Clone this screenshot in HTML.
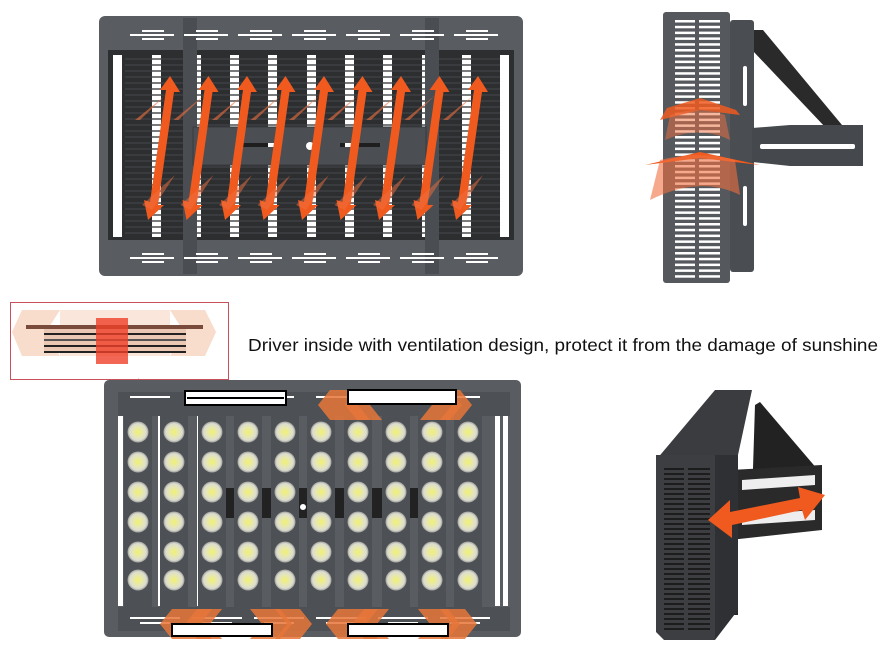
<!DOCTYPE html>
<html><head><meta charset="utf-8"><style>
html,body{margin:0;padding:0;background:#fff;width:894px;height:652px;overflow:hidden}
svg{display:block}
</style></head><body>
<svg id="s" width="894" height="652" viewBox="0 0 894 652" xmlns="http://www.w3.org/2000/svg">
<defs>
<radialGradient id="led"><stop offset="0" stop-color="#f2f070"/><stop offset="0.45" stop-color="#e6e8b0"/><stop offset="0.8" stop-color="#dcdcd0"/><stop offset="1" stop-color="#9a9c98"/></radialGradient>
</defs>
<!-- TOP FIXTURE -->
<rect x="99" y="16" width="424" height="260" rx="6" fill="#595c60"/>
<rect x="108" y="50" width="406" height="190" fill="#2c2e30"/>
<g id="topslots"></g>
<rect x="183" y="18" width="14" height="256" fill="#4a4d51"/>
<rect x="425" y="18" width="14" height="256" fill="#4a4d51"/>
<rect x="193" y="127" width="233" height="38" fill="#4b4e52" stroke="#3a3c3f"/>
<circle cx="310" cy="146" r="4" fill="#fff"/>
<rect x="240" y="143" width="40" height="4" fill="#1e1e1e"/><rect x="340" y="143" width="40" height="4" fill="#1e1e1e"/>
<rect x="268" y="143" width="8" height="4" fill="#fff"/><rect x="345" y="143" width="8" height="4" fill="#fff"/>
<g id="toplines"></g>
<g id="arrows"></g>
<!-- TOP RIGHT SIDE VIEW -->
<polygon points="752,30 763,30 842,125 826,128 752,50" fill="#2a2a2a"/>
<rect x="730" y="20" width="24" height="252" rx="3" fill="#4a4d51"/>
<path d="M752,128 L790,125 L863,125 L863,166 L790,166 L752,162Z" fill="#45484c"/>
<rect x="760" y="144" width="95" height="5" fill="#fff" rx="2"/>
<rect x="743" y="66" width="4" height="40" fill="#fff" rx="2"/><rect x="743" y="186" width="4" height="40" fill="#fff" rx="2"/>
<rect x="663" y="12" width="67" height="271" rx="3" fill="#55585c"/>
<g id="sideslots"></g>
<path d="M667,108 L700,98 L736,110 L740,115 L700,110 L660,120Z" fill="#f05a1e" opacity="0.85"/>
<path d="M645,165 L700,152 L760,165 L700,158 Z" fill="#f05a1e"/>
<path d="M660,160 Q700,150 735,160 L740,195 Q700,175 650,200Z" fill="#f07040" opacity="0.6"/>
<path d="M670,115 Q700,105 725,115 L730,140 Q700,125 665,140Z" fill="#f07040" opacity="0.5"/>
<!-- INSET -->
<rect x="10.5" y="302.5" width="218" height="77" fill="#fff" stroke="#c8505a"/>
<polygon points="22,310 60,310 46,332 60,356 22,356 12,332" fill="#f8dccc"/>
<polygon points="170,310 205,310 216,332 205,356 170,356 184,332" fill="#f8dccc"/>
<rect x="60" y="310" width="110" height="46" fill="#fae6da"/>
<rect x="26" y="325" width="177" height="4" fill="#7a4a3a"/>
<rect x="44" y="329" width="142" height="24" fill="#eac8b4"/>
<rect x="44" y="333" width="142" height="2" fill="#222"/><rect x="44" y="339" width="142" height="2" fill="#555"/><rect x="44" y="345" width="142" height="2" fill="#222"/><rect x="44" y="351" width="142" height="2" fill="#222"/>
<rect x="96" y="318" width="32" height="46" fill="#f04028" opacity="0.8"/>
<line x1="138" y1="379" x2="195" y2="408" stroke="#c8505a"/><line x1="192" y1="379" x2="192" y2="408" stroke="#c8505a"/>
<text x="248" y="351" font-family="Liberation Sans, sans-serif" font-size="17.5" textLength="630" lengthAdjust="spacingAndGlyphs" fill="#111">Driver inside with ventilation design, protect it from the damage of sunshine</text>
<!-- BOTTOM FIXTURE -->
<rect x="104" y="380" width="417" height="257" rx="5" fill="#595c60"/>
<rect x="118" y="392" width="392" height="24" fill="#4d5054"/>
<rect x="118" y="607" width="392" height="24" fill="#4d5054"/>
<g id="bot"></g>
<rect x="185" y="391" width="101" height="14" fill="#fff" stroke="#000" stroke-width="2"/><rect x="187" y="397" width="97" height="2" fill="#000"/>
<g id="orange"></g>
<!-- BOTTOM RIGHT -->
<polygon points="755,405 760,402 818,470 822,475 810,520 760,520 752,500" fill="#222"/>
<polygon points="730,470 822,465 822,530 730,540" fill="#2a2a2a"/>
<polygon points="742,480 815,475 815,485 742,490" fill="#eee"/><polygon points="742,515 815,510 815,520 742,525" fill="#eee"/>
<rect x="720" y="400" width="18" height="215" fill="#2a2a2a"/>
<polygon points="656,460 715,390 752,390 738,455" fill="#3a3c40"/>
<polygon points="656,455 715,455 715,640 664,640 656,632" fill="#3c3e42"/>
<polygon points="715,455 738,455 738,610 715,640" fill="#2e3033"/>
<g id="brslots"></g>
<path d="M708,520 L730,500 L730,512 L800,498 L798,487 L825,495 L805,520 L802,510 L732,525 L732,538Z" fill="#f05a1e"/>
</svg>
<script>
const ns="http://www.w3.org/2000/svg";
function el(p,t,a){const e=document.createElementNS(ns,t);for(const k in a)e.setAttribute(k,a[k]);document.getElementById(p).appendChild(e);return e;}
[113,152,197,230,268,307,345,383,422,462,500].forEach(x=>el("topslots","rect",{x:x,y:55,width:(x==197||x==422)?4:9,height:182,fill:"#fff"}));
for(let y=58;y<236;y+=6){el("topslots","rect",{x:125,y:y,width:375,height:2,fill:"#3f4245",opacity:0.7});}
for(let i=0;i<7;i++){const x=130+i*54;el("toplines","rect",{x:x,y:34,width:44,height:2,fill:"#fff"});el("toplines","rect",{x:x+12,y:30,width:22,height:2,fill:"#fff"});el("toplines","rect",{x:x+12,y:38,width:22,height:2,fill:"#fff"});
el("toplines","rect",{x:x,y:257,width:44,height:2,fill:"#fff"});el("toplines","rect",{x:x+12,y:253,width:22,height:2,fill:"#fff"});el("toplines","rect",{x:x+12,y:261,width:22,height:2,fill:"#fff"});}
for(let i=0;i<9;i++){const cx=160+i*38.5;
el("arrows","path",{d:`M${cx+10},76 L${cx+20},92 L${cx+14},92 L${cx-2},205 L${cx+4},205 L${cx-12},220 L${cx-16},200 L${cx-10},202 L${cx+6},90 L${cx},90 Z`,fill:"#f05a1e"});
el("arrows","path",{d:`M${cx+6},95 L${cx-20},120 L${cx-25},120 Z`,fill:"#f07040",opacity:0.6});
el("arrows","path",{d:`M${cx+15},175 L${cx-8},210 L${cx-18},205 Z`,fill:"#f07040",opacity:0.5});}
for(let y=20;y<280;y+=5.8){el("sideslots","rect",{x:675,y:y,width:20,height:2.5,fill:"#fff"});el("sideslots","rect",{x:699,y:y,width:21,height:2.5,fill:"#fff"});}
const cols=[138,174,212,248,285,321,358,396,432,468];
[118,152,191,228,266,304,341,377,414,450,489].forEach((x,i)=>el("bot","rect",{x:x+(i==0?0:6),y:416,width:5,height:190,fill:"#fff"}));
el("bot","rect",{x:118,y:416,width:5,height:190,fill:"#fff"});el("bot","rect",{x:503,y:416,width:5,height:190,fill:"#fff"});
el("bot","rect",{x:200,y:488,width:220,height:30,fill:"#222"});
cols.forEach(cx=>{el("bot","rect",{x:cx-14,y:416,width:28,height:192,fill:"#4d5054"});
[432,462,492,522,552,580].forEach(cy=>el("bot","circle",{cx:cx,cy:cy,r:10.5,fill:"url(#led)"}));});
el("bot","circle",{cx:303,cy:507,r:3,fill:"#fff"});
for(let i=0;i<6;i++){const x=130+i*62;el("bot","rect",{x:x,y:396,width:40,height:2,fill:"#fff"});el("bot","rect",{x:x,y:617,width:50,height:2,fill:"#fff"});el("bot","rect",{x:x+10,y:622,width:30,height:2,fill:"#fff"});}
function chev(x,y,w,dir){const h=30;el("orange","polygon",{points:dir>0?`${x},${y} ${x+w},${y} ${x+w+12},${y+h/2} ${x+w},${y+h} ${x},${y+h} ${x+12},${y+h/2}`:`${x+12},${y} ${x+w+12},${y} ${x+w},${y+h/2} ${x+w+12},${y+h} ${x+12},${y+h} ${x},${y+h/2}`,fill:"#e8763a",opacity:0.85});}
chev(318,390,40,-1);chev(345,390,25,-1);chev(420,390,30,1);chev(440,390,20,1);
el("orange","rect",{x:348,y:390,width:108,height:14,fill:"#fff",stroke:"#000","stroke-width":2});
chev(160,609,40,-1);chev(185,609,25,-1);chev(250,609,30,1);chev(275,609,25,1);
chev(326,609,40,-1);chev(352,609,25,-1);chev(418,609,30,1);chev(440,609,25,1);
el("orange","rect",{x:172,y:624,width:100,height:12,fill:"#fff",stroke:"#000","stroke-width":2});
el("orange","rect",{x:348,y:624,width:100,height:12,fill:"#fff",stroke:"#000","stroke-width":2});
for(let y=468;y<632;y+=5){el("brslots","rect",{x:664,y:y,width:20,height:2,fill:"#1c1c1c"});el("brslots","rect",{x:688,y:y,width:22,height:2,fill:"#1c1c1c"});}
</script>
</body></html>
